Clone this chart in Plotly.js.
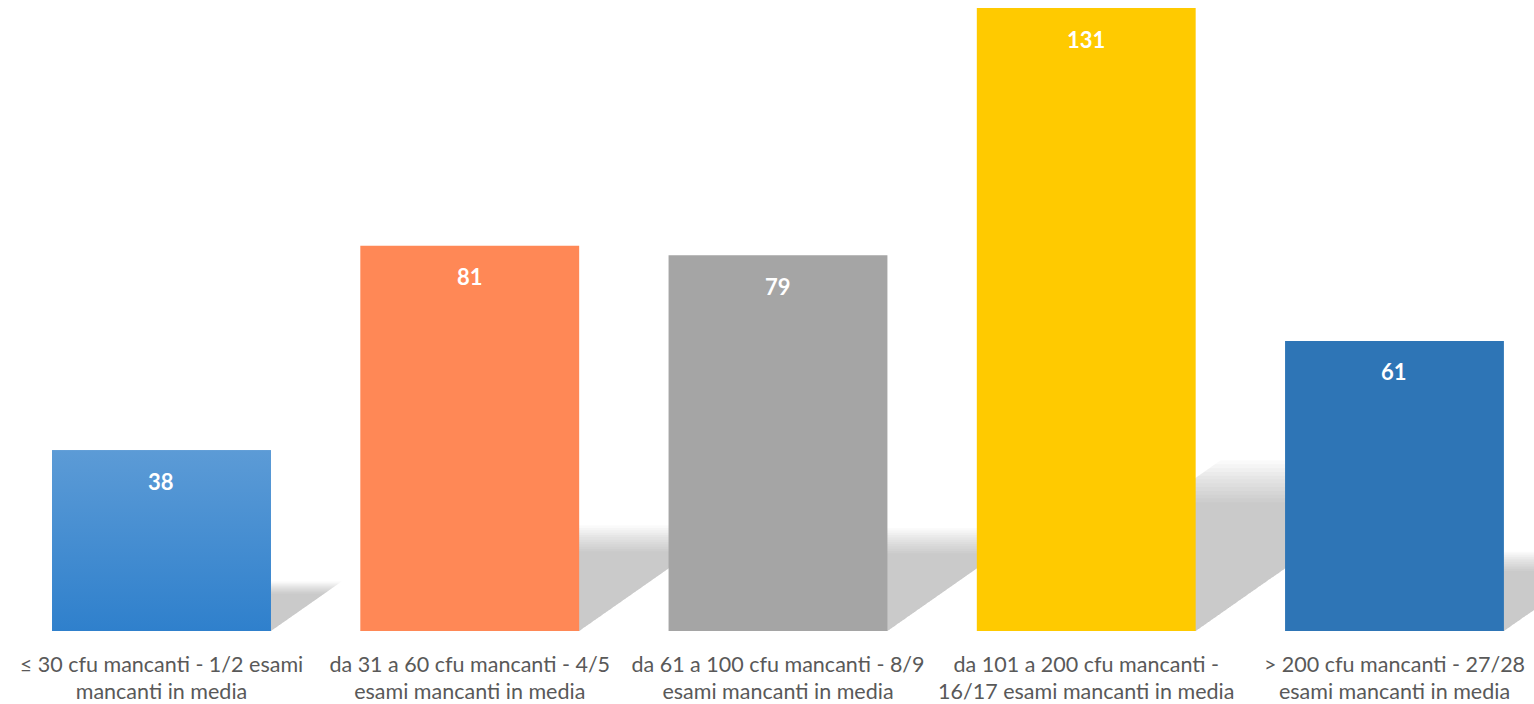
<!DOCTYPE html>
<html>
<head>
<meta charset="utf-8">
<script src="https://cdn.plot.ly/plotly-3.0.1.min.js"></script>
<style>html,body{margin:0;padding:0;background:#fff;}#chart{width:1534px;height:704px;}</style>
</head>
<body>
<div id="chart"></div>
<script>
// Data
const categories = [
  "≤ 30 cfu mancanti - 1/2 esami<br>mancanti in media",
  "da 31 a 60 cfu mancanti - 4/5<br>esami mancanti in media",
  "da 61 a 100 cfu mancanti - 8/9<br>esami mancanti in media",
  "da 101 a 200 cfu mancanti -<br>16/17 esami mancanti in media",
  "> 200 cfu mancanti - 27/28<br>esami mancanti in media"
];
const values = [38, 81, 79, 131, 61];
const barColors = ["#4A8FD2", "#FF8856", "#A5A5A5", "#FFCA00", "#2E75B6"];

const xs = categories.map((_, i) => i);
const BAR_W = 0.71;
const HW = BAR_W / 2;

// Shadows (decorative, computed from the values)
const shapes = [];
const SH_K = 0.24;      // shadow height relative to bar value
const SH_S = 0.00529;   // horizontal skew (category units per value unit)
const N_LAYERS = 12;
values.forEach((v, i) => {
  for (let j = 0; j < N_LAYERS; j++) {
    const f = 0.86 + 0.28 * j / (N_LAYERS - 1);
    const h = SH_K * v * f;
    const sh = SH_S * v * f;
    const x0 = xs[i] - HW, x1 = xs[i] + HW;
    shapes.push({
      type: 'path', xref: 'x', yref: 'y', layer: 'below',
      path: `M ${x0},0 L ${x1},0 L ${x1 + sh},${h} L ${x0 + sh},${h} Z`,
      fillcolor: 'rgba(120,120,120,0.038)', line: {width: 0}
    });
  }
});

const traces = [{
  type: 'bar', x: xs, y: values, width: BAR_W,
  marker: {color: barColors, line: {width: 0}},
  hoverinfo: 'skip', showlegend: false
}, {
  // gradient overlay for the first bar
  type: 'scatter', mode: 'none',
  x: [xs[0] - HW, xs[0] + HW, xs[0] + HW, xs[0] - HW, xs[0] - HW],
  y: [0, 0, values[0], values[0], 0],
  fill: 'toself',
  fillgradient: {type: 'vertical', colorscale: [[0, '#2F80CC'], [1, '#5C9BD6']]},
  hoverinfo: 'skip', showlegend: false
}];

const annotations = values.map((v, i) => ({
  x: xs[i], y: v, xref: 'x', yref: 'y', text: String(v),
  showarrow: false, yanchor: 'middle', yshift: -31,
  font: {family: 'Lato, "Open Sans", sans-serif', size: 22, color: '#FFFFFF', weight: 'bold'}
}));

const layout = {
  width: 1534, height: 704,
  margin: {l: 0, r: 0, t: 8, b: 73},
  paper_bgcolor: '#ffffff', plot_bgcolor: '#ffffff',
  showlegend: false,
  xaxis: {
    type: 'linear', range: [-0.5239, 4.4526],
    tickvals: xs, ticktext: categories,
    showgrid: false, zeroline: false, showline: false, ticks: '',
    ticklabelstandoff: 18,
    tickfont: {family: 'Lato, "Open Sans", sans-serif', size: 21.5, color: '#595959'},
    fixedrange: true
  },
  yaxis: {
    range: [0, 131], visible: false, showgrid: false, zeroline: false, fixedrange: true
  },
  shapes: shapes,
  annotations: annotations
};

Plotly.newPlot('chart', traces, layout, {staticPlot: true, displayModeBar: false});
</script>
</body>
</html>
